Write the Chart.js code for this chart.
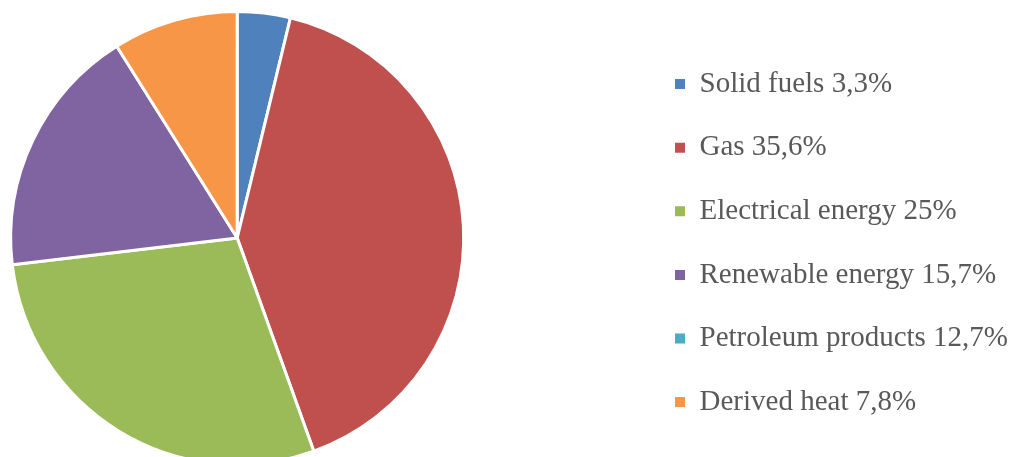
<!DOCTYPE html>
<html>
<head>
<meta charset="utf-8">
<script src="https://cdn.jsdelivr.net/npm/chart.js@4"></script>
<style>
  html, body { margin: 0; padding: 0; background: #fff; overflow: hidden; }
  body { width: 1018px; height: 457px; position: relative; }
  #wrap { position: absolute; left: -166px; top: 10px; width: 1184px; height: 456px; }
</style>
</head>
<body>
<div id="wrap"><canvas id="chart"></canvas></div>
<script>
// energy mix shares, labels carry the published percentages
const labels = [
  "Solid fuels 3,3%",
  "Gas 35,6%",
  "Electrical energy 25%",
  "Renewable energy 15,7%",
  "Petroleum products 12,7%",
  "Derived heat 7,8%",
];
// petroleum slice is not drawn in the original pie
const shares = [3.3, 35.6, 25, 15.7, 0, 7.8];
const colors = ["#4F81BD", "#C0504D", "#9BBB59", "#8064A2", "#4BACC6", "#F79646"];

const ctx = document.getElementById("chart");
new Chart(ctx, {
  type: "pie",
  data: {
    labels: labels,
    datasets: [
      {
        data: shares,
        backgroundColor: colors,
        borderColor: "#ffffff",
        borderWidth: 3,
      },
    ],
  },
  options: {
    responsive: true,
    maintainAspectRatio: false,
    animation: false,
    layout: { padding: 0 },
    plugins: {
      tooltip: { enabled: false },
      legend: {
        position: "right",
        align: "center",
        title: { display: true, text: "", font: { size: 1 }, padding: { top: 0, bottom: 9 } },
        labels: {
          boxWidth: 10,
          boxHeight: 10,
          padding: 34.6,
          color: "#595959",
          font: { family: "'Liberation Serif', 'Times New Roman', serif", size: 29 },
          generateLabels: (chart) =>
            Chart.overrides.pie.plugins.legend.labels
              .generateLabels(chart)
              .map((item) => ({ ...item, lineWidth: 0 })),
        },
      },
    },
  },
});
</script>
</body>
</html>
